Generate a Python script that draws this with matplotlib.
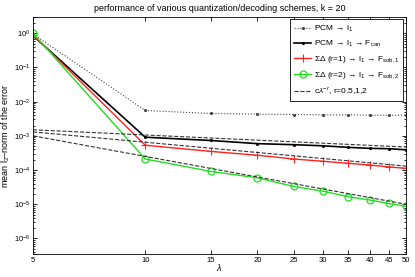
import matplotlib
matplotlib.use('Agg')
import matplotlib.pyplot as plt
from matplotlib.ticker import LogLocator, NullLocator, FixedLocator

plt.rcParams['font.family'] = ['Liberation Sans', 'DejaVu Sans']
plt.rcParams['mathtext.fontset'] = 'custom'
plt.rcParams['mathtext.rm'] = 'Liberation Sans'
plt.rcParams['mathtext.it'] = 'Liberation Sans:italic'

# data
lam = [5, 10, 15, 20, 25, 30, 35, 40, 45, 50]
pcm_l1 = [0.95, 5.5e-3, 4.5e-3, 4.3e-3, 4.2e-3, 4.1e-3, 4.1e-3, 4.0e-3, 4.0e-3, 4.0e-3]
pcm_fcan = [0.85, 9.1e-4, 7.3e-4, 5.9e-4, 5.5e-4, 5.1e-4, 4.6e-4, 4.3e-4, 4.2e-4, 3.9e-4]
sd1_fsob = [0.9, 5.3e-4, 3.5e-4, 2.7e-4, 2.1e-4, 1.8e-4, 1.57e-4, 1.4e-4, 1.23e-4, 1.12e-4]
sd2_fsob = [1.0, 2.1e-4, 9.1e-5, 5.9e-5, 3.3e-5, 2.4e-5, 1.66e-5, 1.33e-5, 1.05e-5, 8.7e-6]

# reference power laws c*lambda^-r (end points)
ref_lam = [5, 50]
ref_r05 = [1.5e-3, 4.7e-4]
ref_r1 = [1.3e-3, 1.3e-4]
ref_r2 = [1.0e-3, 1.0e-5]

y_ticks = [1e-6, 1e-5, 1e-4, 1e-3, 1e-2, 1e-1, 1e0]
y_ticklabels = ['$10^{-6}$', '$10^{-5}$', '$10^{-4}$', '$10^{-3}$', '$10^{-2}$', '$10^{-1}$', '$10^{0}$']

fig = plt.figure(figsize=(4.15, 2.77), dpi=100)
ax = fig.add_axes([0.0795, 0.083, 0.8985, 0.856])

ax.loglog(lam, pcm_l1, ':', color='#444444', lw=0.8, marker='.', ms=2.5,
          label=r'PCM$\,\rightarrow\,$l$_1$')
ax.loglog(lam, pcm_fcan, '-', color='black', lw=1.2, marker='.', ms=2.5,
          label=r'PCM$\,\rightarrow\,$l$_1\,\rightarrow\,$F$_{\rm can}$')
ax.loglog(lam, sd1_fsob, '-', color='#ff2020', lw=1.0, marker='+', ms=6, mew=0.8,
          label=r'$\Sigma\Delta$ (r=1)$\,\rightarrow\,$l$_1\,\rightarrow\,$F$_{\rm sob,1}$')
ax.loglog(lam, sd2_fsob, '-', color='#22dd22', lw=1.0, marker='o', ms=5, mfc='none', mew=0.9,
          label=r'$\Sigma\Delta$ (r=2)$\,\rightarrow\,$l$_1\,\rightarrow\,$F$_{\rm sob,2}$')
ax.loglog(ref_lam, ref_r05, '--', color='#333333', lw=0.8,
          label=r'c$\lambda^{-r}$, r=0.5,1,2')
ax.loglog(ref_lam, ref_r1, '--', color='#333333', lw=0.8)
ax.loglog(ref_lam, ref_r2, '--', color='#333333', lw=0.8)

ax.set_xlim(5, 50)
ax.set_ylim(3.5e-7, 3)
ax.xaxis.set_major_locator(FixedLocator(lam))
ax.xaxis.set_minor_locator(NullLocator())
ax.set_xticklabels([str(v) for v in lam])
ax.yaxis.set_major_locator(FixedLocator(y_ticks))
ax.set_yticklabels(y_ticklabels)
ax.yaxis.set_minor_locator(LogLocator(base=10, subs=range(2, 10), numticks=20))
ax.yaxis.set_minor_formatter(plt.NullFormatter())

ax.tick_params(which='both', direction='in', top=True, right=True, labelsize=5.5, width=0.6)
ax.tick_params(which='major', length=3, pad=2)
ax.tick_params(which='minor', length=1.5)
for s in ax.spines.values():
    s.set_linewidth(0.6)

ax.set_title('performance of various quantization/decoding schemes, k = 20', fontsize=6.5, pad=4)
ax.set_xlabel(r'$\lambda$', fontsize=6.5, labelpad=-1)
ax.set_ylabel('mean l$_2$\u2013norm of the error', fontsize=6.5)
ax.yaxis.set_label_coords(-0.055, 0.5)

leg = ax.legend(loc='upper right', fontsize=6, frameon=True, fancybox=False,
                edgecolor='black', framealpha=1, borderpad=0.5, labelspacing=0.6,
                handlelength=2.0, handletextpad=0.3, borderaxespad=0.3)
leg.get_frame().set_linewidth(0.6)

fig.savefig('out.png', dpi=100)
